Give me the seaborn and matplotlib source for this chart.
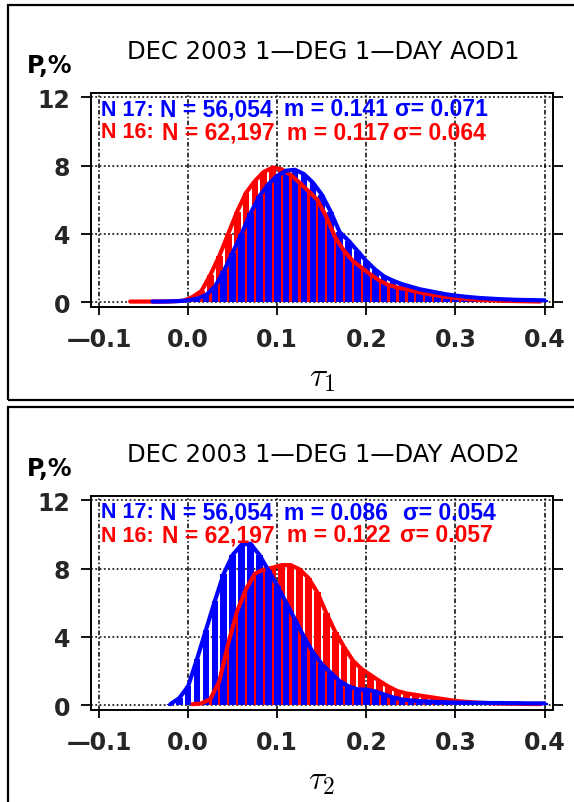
import numpy as np
import pandas as pd
import matplotlib
matplotlib.use("Agg")
import matplotlib.pyplot as plt
import seaborn as sns
from matplotlib.patches import Rectangle

# ---------------- data ----------------
BIN_WIDTH = 0.01
# NOAA-17 bins centred on whole hundredths, NOAA-16 bins offset by half a bin
tau_n17 = np.round(np.arange(-0.07, 0.4001, BIN_WIDTH), 3)    # 48 centres
tau_n16 = np.round(np.arange(-0.065, 0.3951, BIN_WIDTH), 3)   # 47 centres

# AOD1 panel (percent per 0.01 bin); 0 = no data
aod1_n16 = [0.03, 0.03, 0.03, 0.03, 0.03, 0.05, 0.08,
            0.3, 0.65, 1.6, 2.7, 4.0, 5.3, 6.4, 7.1, 7.63, 7.88,
            7.78, 7.45, 7.0, 6.5, 6.0, 5.0, 3.8, 3.0, 2.4, 2.0,
            1.6, 1.25, 1.0, 0.85, 0.75, 0.62, 0.52, 0.42, 0.35, 0.28,
            0.22, 0.18, 0.13, 0.11, 0.09, 0.07, 0.06, 0.05, 0.04, 0.03]
aod1_n17 = [0, 0, 0, 0.03, 0.03, 0.04, 0.06,
            0.1, 0.2, 0.4, 0.9, 1.8, 2.9, 4.0, 5.2, 6.2, 6.9,
            7.4, 7.7, 7.75, 7.5, 7.0, 6.3, 5.3, 4.1, 3.6, 3.0,
            2.4, 1.9, 1.5, 1.25, 1.05, 0.9, 0.75, 0.65, 0.55, 0.45,
            0.38, 0.32, 0.27, 0.23, 0.2, 0.17, 0.15, 0.13, 0.12, 0.11, 0.1]

# AOD2 panel
aod2_n16 = [0, 0, 0, 0, 0, 0, 0,
            0.05, 0.1, 0.35, 1.4, 3.6, 5.5, 6.8, 7.7, 7.95, 8.05,
            8.2, 8.2, 7.95, 7.45, 6.6, 5.4, 4.3, 3.4, 2.6, 2.1,
            1.75, 1.4, 1.08, 0.82, 0.68, 0.6, 0.52, 0.44, 0.36, 0.28,
            0.22, 0.18, 0.14, 0.12, 0.1, 0.09, 0.08, 0.07, 0.06, 0.06]
aod2_n17 = [0, 0, 0, 0, 0, 0.05, 0.4,
            1.1, 2.7, 4.4, 6.1, 7.7, 8.8, 9.4, 9.45, 8.8, 7.9,
            7.0, 6.0, 5.0, 4.0, 3.1, 2.4, 1.9, 1.4, 1.1, 0.92,
            0.9, 0.8, 0.62, 0.45, 0.33, 0.27, 0.23, 0.2, 0.18, 0.16,
            0.15, 0.14, 0.13, 0.13, 0.12, 0.12, 0.11, 0.11, 0.1, 0.1, 0.1]

titles = ["DEC 2003 1\u2014DEG 1\u2014DAY AOD1", "DEC 2003 1\u2014DEG 1\u2014DAY AOD2"]
xlabels = [r"$\tau_1$", r"$\tau_2$"]
n17_stats = [["N 17:", "N = 56,054", "m = 0.141", "\u03c3= 0.071"],
             ["N 17:", "N = 56,054", "m = 0.086", "\u03c3= 0.054"]]
n16_stats = [["N 16:", "N = 62,197", "m = 0.117", "\u03c3= 0.064"],
             ["N 16:", "N = 62,197", "m = 0.122", "\u03c3= 0.057"]]
x_ticks = [-0.1, 0.0, 0.1, 0.2, 0.3, 0.4]
x_ticklabels = ["\u20140.1", "0.0", "0.1", "0.2", "0.3", "0.4"]
y_ticks = [0, 4, 8, 12]
y_ticklabels = ["0", "4", "8", "12"]

# ---------------- style ----------------
sns.set_theme(style="white")
plt.rcParams["font.family"] = ["DejaVu Sans"]
plt.rcParams["mathtext.fontset"] = "cm"

W, H = 574, 803
fig = plt.figure(figsize=(W / 100, H / 100), dpi=100)
fig.patch.set_facecolor("white")


def fx(x):
    return x / W


def fy(y):
    return 1 - y / H


def draw_series(ax, centers, vals, color, shrink, lw):
    vals = np.asarray(vals, dtype=float)
    mask = vals > 0
    df = pd.DataFrame({"tau": centers[mask], "pct": vals[mask]})
    c = df["tau"].to_numpy()
    edges = list(np.append(c - BIN_WIDTH / 2, c[-1] + BIN_WIDTH / 2))
    sns.histplot(data=df, x="tau", weights="pct", bins=edges, shrink=shrink,
                 color=color, alpha=1, linewidth=0, ax=ax, zorder=2)
    sns.lineplot(data=df, x="tau", y="pct", color=color, linewidth=lw,
                 ax=ax, zorder=3, solid_joinstyle="miter")


panels = [
    dict(top=94, bottom=307.5, box=(6, 401), n16=aod1_n16, n17=aod1_n17),
    dict(top=497, bottom=710.5, box=(408, 830), n16=aod2_n16, n17=aod2_n17),
]
ax_left, ax_right = 91, 553

for i, p in enumerate(panels):
    # outer panel frame
    fig.patches.append(Rectangle((fx(8), fy(p["box"][1])), fx(620 - 8),
                                 (p["box"][1] - p["box"][0]) / H,
                                 transform=fig.transFigure, fill=False,
                                 ec="black", lw=1.6, zorder=0))
    ax = fig.add_axes([fx(ax_left), fy(p["bottom"]),
                       (ax_right - ax_left) / W, (p["bottom"] - p["top"]) / H])
    ax.set_facecolor("white")

    draw_series(ax, tau_n16, p["n16"], "#ff0000", 0.76, 3.0)
    draw_series(ax, tau_n17, p["n17"], "#0000ff", 0.74, 3.0)

    ax.set_xlim(-0.109, 0.4095)
    ax.set_ylim(-0.26, 12.25)
    ax.set_xticks(x_ticks)
    ax.set_xticklabels(x_ticklabels)
    ax.set_yticks(y_ticks)
    ax.set_yticklabels(y_ticklabels)
    ax.set_xlabel("")
    ax.set_ylabel("")
    for t in ax.get_xticklabels() + ax.get_yticklabels():
        t.set_fontweight("bold")
        t.set_fontsize(17)
    ax.tick_params(axis="y", which="major", direction="out", length=7,
                   width=1.3, pad=8, left=True, right=True, color="black")
    ax.tick_params(axis="x", which="major", direction="out", length=6,
                   width=1.3, pad=9, bottom=True, top=False, color="black")
    ax.set_axisbelow(True)
    ax.yaxis.grid(True, color="black", linestyle=(0, (1.2, 1.6)), linewidth=1.1)
    ax.xaxis.grid(True, color="black", linestyle=(0, (3, 1.5, 1, 1.5)), linewidth=1.1)
    for s in ax.spines.values():
        s.set_color("black")
        s.set_linewidth(1.4)
        s.set_visible(True)

    # title, y unit, x label
    fig.text(fx(323), fy(p["top"] - 42), titles[i], ha="center", va="center",
             fontsize=17.5, color="black")
    fig.text(fx(27), fy(p["top"] - 28), "P,%", ha="left", va="center",
             fontsize=17, fontweight="bold", color="black")
    fig.text(fx(322), fy(p["bottom"] + 70), xlabels[i], ha="center", va="center",
             fontsize=24, color="black")

    # statistics
    xs17 = [101, 160, 284, 395] if i == 0 else [101, 160, 284, 403]
    xs16 = [101, 162, 287, 393] if i == 0 else [101, 162, 287, 400]
    for j, (txt, x) in enumerate(zip(n17_stats[i], xs17)):
        fig.text(fx(x), fy(p["top"] + 16), txt, ha="left", va="center",
                 fontsize=15.5 if j == 0 else 16.5, fontweight="bold",
                 color="#0000ff", family=["Liberation Sans", "DejaVu Sans"])
    for j, (txt, x) in enumerate(zip(n16_stats[i], xs16)):
        fig.text(fx(x), fy(p["top"] + 39), txt, ha="left", va="center",
                 fontsize=15.5 if j == 0 else 16.5, fontweight="bold",
                 color="#ff0000", family=["Liberation Sans", "DejaVu Sans"])

fig.savefig("out.png", dpi=100, facecolor="white")
